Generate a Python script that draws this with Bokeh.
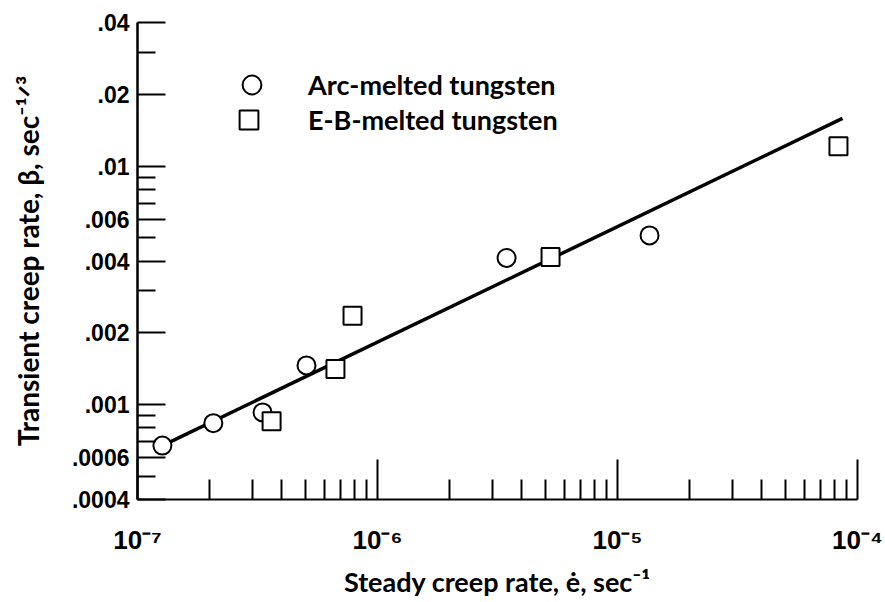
from bokeh.plotting import figure
from bokeh.models import FixedTicker, CustomJSTickFormatter, Legend, LegendItem
from bokeh.embed import file_html
from bokeh.resources import INLINE

# ---- data ----
arc_x = [1.27e-7, 2.07e-7, 3.32e-7, 5.06e-7, 3.45e-6, 1.36e-5]
arc_y = [6.73e-4, 8.36e-4, 9.27e-4, 1.46e-3, 4.12e-3, 5.12e-3]

eb_x = [3.62e-7, 6.68e-7, 7.87e-7, 5.26e-6, 8.33e-5]
eb_y = [8.52e-4, 1.41e-3, 2.36e-3, 4.16e-3, 1.21e-2]

fit_x = [1.27e-7, 8.66e-5]
fit_y = [6.73e-4, 1.585e-2]

x_major = [1e-7, 1e-6, 1e-5, 1e-4]
x_major_labels = ["10\u207b\u2077", "10\u207b\u2076", "10\u207b\u2075", "10\u207b\u2074"]
x_minor = [2e-7, 3e-7, 4e-7, 5e-7, 6e-7, 7e-7, 8e-7, 9e-7,
           2e-6, 3e-6, 4e-6, 5e-6, 6e-6, 7e-6, 8e-6, 9e-6,
           2e-5, 3e-5, 4e-5, 5e-5, 6e-5, 7e-5, 8e-5, 9e-5]

y_major = [0.04, 0.02, 0.01, 0.006, 0.004, 0.002, 0.001, 0.0006, 0.0004]
y_major_labels = [".04", ".02", ".01", ".006", ".004", ".002", ".001", ".0006", ".0004"]
y_minor = [0.03, 0.009, 0.008, 0.007, 0.005, 0.003, 0.0009, 0.0008, 0.0007, 0.0005]

legend_labels = ["Arc-melted tungsten", "E-B-melted tungsten"]

TICK_FONT = "Liberation Sans"
TEXT_FONT = "Lato"

p = figure(width=885, height=600,
           x_axis_type="log", y_axis_type="log",
           x_range=(1e-7, 1e-4), y_range=(4e-4, 4e-2),
           output_backend="svg", toolbar_location=None,
           min_border_left=137, min_border_right=28,
           min_border_top=22, min_border_bottom=90)
p.outline_line_color = None
p.grid.visible = False
p.background_fill_color = "white"
p.border_fill_color = "white"

fmt_code = """
for (let i = 0; i < vals.length; i++) {
  if (Math.abs(vals[i] / tick - 1) < 1e-6) { return labs[i]; }
}
return "";
"""

xa = p.xaxis[0]
xa.ticker = FixedTicker(ticks=x_major, minor_ticks=x_minor)
xa.formatter = CustomJSTickFormatter(args=dict(vals=x_major, labs=x_major_labels), code=fmt_code)
xa.axis_label = "Steady creep rate, \u0117, sec\u207b\u00b9"
xa.axis_line_width = 2
xa.major_tick_in = 40
xa.major_tick_out = 0
xa.minor_tick_in = 20
xa.minor_tick_out = 0
xa.major_tick_line_width = 2
xa.minor_tick_line_width = 2
xa.major_label_text_font = TICK_FONT
xa.major_label_text_font_size = "26px"
xa.major_label_text_font_style = "bold"
xa.major_label_text_color = "black"
xa.major_label_standoff = 25
xa.axis_label_text_font = TEXT_FONT
xa.axis_label_text_font_size = "27px"
xa.axis_label_text_font_style = "bold"
xa.axis_label_text_color = "black"
xa.axis_label_standoff = 7

ya = p.yaxis[0]
ya.ticker = FixedTicker(ticks=y_major, minor_ticks=y_minor)
ya.formatter = CustomJSTickFormatter(args=dict(vals=y_major, labs=y_major_labels), code=fmt_code)
ya.axis_label = "Transient creep rate, \u03b2, sec\u207b\u00b9\u141f\u00b3"
ya.axis_line_width = 2.5
ya.major_tick_in = 28
ya.major_tick_out = 0
ya.minor_tick_in = 18
ya.minor_tick_out = 0
ya.major_tick_line_width = 2
ya.minor_tick_line_width = 2
ya.major_label_text_font = TICK_FONT
ya.major_label_text_font_size = "23px"
ya.major_label_text_font_style = "bold"
ya.major_label_text_color = "black"
ya.major_label_standoff = 8
ya.axis_label_text_font = TEXT_FONT
ya.axis_label_text_font_size = "28px"
ya.axis_label_text_font_style = "bold"
ya.axis_label_text_color = "black"
ya.axis_label_standoff = 24

p.line(fit_x, fit_y, line_color="black", line_width=3.5)
r_arc = p.scatter(arc_x, arc_y, marker="circle", size=18, fill_color="white",
                  line_color="black", line_width=2)
r_eb = p.scatter(eb_x, eb_y, marker="square", size=18, fill_color="white",
                 line_color="black", line_width=2)

leg_specs = [(r_arc, legend_labels[0], (91, 391), 33),
             (r_eb, legend_labels[1], (88, 356), 36)]
for rend, lab, loc, ls in leg_specs:
    leg = Legend(items=[LegendItem(label=lab, renderers=[rend])],
                 location=loc, padding=0, margin=0, spacing=0,
                 glyph_width=47, glyph_height=47, label_standoff=ls,
                 border_line_color=None, background_fill_alpha=0,
                 label_text_font=TEXT_FONT, label_text_font_size="27px",
                 label_text_font_style="bold",
                 label_text_color="black")
    p.add_layout(leg, "center")

open("out.html", "w").write(file_html(p, INLINE))
